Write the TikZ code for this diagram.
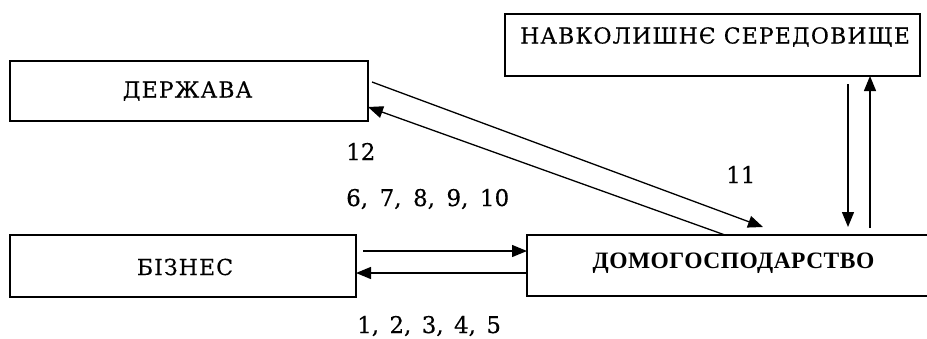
\documentclass[tikz,border=0pt]{standalone}
\usepackage{fontspec}
\setmainfont{DejaVu Serif}[FakeBold=0.3]
\newfontfamily\boxfont{DejaVu Serif}[LetterSpace=5,FakeBold=0.3]
\newfontfamily\boldtimes{Liberation Serif}[LetterSpace=2]
\usetikzlibrary{arrows.meta}
\begin{document}
\begin{tikzpicture}[x=1pt,y=-1pt,
  box/.style={draw,line width=1.4pt,rectangle,inner sep=0pt,minimum width=#1},
  lbl/.style={anchor=base,inner sep=0pt,font=\boxfont\fontsize{22}{26}\selectfont},
  num/.style={anchor=base west,inner sep=0pt,font=\fontsize{23}{27}\selectfont},
  arr/.style={line width=1.3pt,-{Triangle[length=15pt,width=12pt]}}]
\useasboundingbox (0,0) rectangle (927,338);
\begin{scope}
\clip (0,0) rectangle (927,338);
\node[box=358pt,minimum height=60pt] (derzh) at (189,91) {};
\node[box=415pt,minimum height=62pt] (nav) at (712.5,45) {};
\node[box=346pt,minimum height=62pt] (biz) at (183,266) {};
\node[box=413pt,minimum height=61pt] (dom) at (733.5,265.5) {};
\end{scope}
\node[lbl] (tderzh) at (187.5,97.5) {ДЕРЖАВА};
\node[lbl] (tnav) at (715,43.5) {НАВКОЛИШНЄ СЕРЕДОВИЩЕ};
\node[lbl] (tbiz) at (185,275) {БІЗНЕС};
\node[anchor=base,inner sep=0pt,font=\boldtimes\bfseries\fontsize{23.5}{27}\selectfont] (tdom) at (733.5,268) {ДОМОГОСПОДАРСТВО};
\node[num] (n12) at (346,160) {12};
\node[num] (n6) at (346,206) {6,\hspace{0.5em}7,\hspace{0.5em}8,\hspace{0.5em}9,\hspace{0.5em}10};
\node[num] (n11) at (726,183) {11};
\node[num] (n1) at (357,333) {1,\hspace{0.45em}2,\hspace{0.45em}3,\hspace{0.45em}4,\hspace{0.45em}5};
\coordinate (a1s) at (372,82);
\coordinate (a1e) at (763,227);
\coordinate (a2s) at (725,235);
\coordinate (a2e) at (368,107);
\coordinate (a3s) at (363,251);
\coordinate (a3e) at (527,251);
\coordinate (a4s) at (527,273);
\coordinate (a4e) at (356,273);
\coordinate (a5s) at (848,84);
\coordinate (a5e) at (848,227);
\coordinate (a6s) at (870,228);
\coordinate (a6e) at (870,76);
\draw[arr] (a1s) -- (a1e);
\draw[arr] (a2s) -- (a2e);
\draw[arr] (a3s) -- (a3e);
\draw[arr] (a4s) -- (a4e);
\draw[arr] (a5s) -- (a5e);
\draw[arr] (a6s) -- (a6e);
\end{tikzpicture}
\end{document}
